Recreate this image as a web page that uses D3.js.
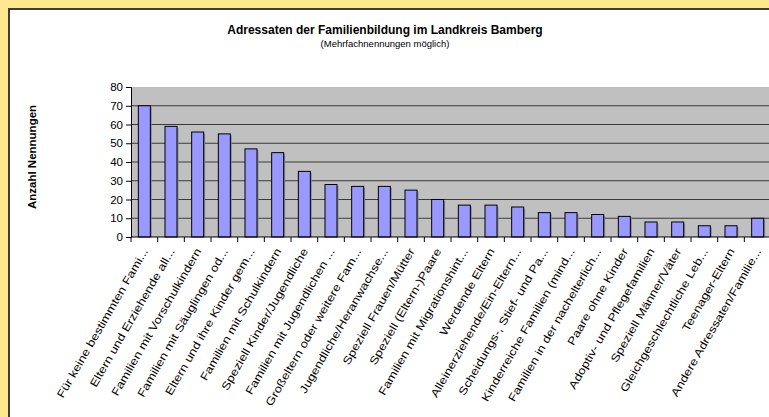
<!DOCTYPE html>
<html>
<head>
<meta charset="utf-8">
<script src="https://cdnjs.cloudflare.com/ajax/libs/d3/7.8.5/d3.min.js"></script>
<style>
  body { margin: 0; background: #FFE78F; }
  svg { display: block; font-family: Arial, "Liberation Sans", sans-serif; }
</style>
</head>
<body>
<div id="chart"></div>
<script>
let width = 769;
let height = 417;

// data
var categories = [
    "Für keine bestimmten Fami...",
    "Eltern und Erziehende all...",
    "Familien mit Vorschulkindern",
    "Familien mit Säuglingen od...",
    "Eltern und ihre Kinder gem...",
    "Familien mit Schulkindern",
    "Speziell Kinder/Jugendliche",
    "Familien mit Jugendlichen ...",
    "Großeltern oder weitere Fam...",
    "Jugendliche/Heranwachse...",
    "Speziell Frauen/Mütter",
    "Speziell (Eltern-)Paare",
    "Familien mit Migrationshint...",
    "Werdende Eltern",
    "Alleinerziehende/Ein-Eltern...",
    "Scheidungs-, Stief- und Pa...",
    "Kinderreiche Familien (mind...",
    "Familien in der nachelterlich...",
    "Paare ohne Kinder",
    "Adoptiv- und Pflegefamilien",
    "Speziell Männer/Väter",
    "Gleichgeschlechtliche Leb...",
    "Teenager-Eltern",
    "Andere Adressaten/Familie..."
];
var counts = [70, 59, 56, 55, 47, 45, 35, 28, 27, 27, 25, 20, 17, 17, 16, 13, 13, 12, 11, 8, 8, 6, 6, 10];
var yTicks = [0, 10, 20, 30, 40, 50, 60, 70, 80];

var title = "Adressaten der Familienbildung im Landkreis Bamberg";
var subtitle = "(Mehrfachnennungen möglich)";
var yTitle = "Anzahl Nennungen";

var svg = d3.select("#chart").append("svg")
    .attr("width", width)
    .attr("height", height);

// background + white chart area
svg.append("rect")
    .attr("width", width).attr("height", height)
    .attr("fill", "#FFE78F");
svg.append("rect")
    .attr("x", 9).attr("y", 9)
    .attr("width", 780).attr("height", 430)
    .attr("fill", "#fff")
    .attr("stroke", "#3c3c3c")
    .attr("stroke-width", 2);

// titles
svg.append("text")
    .attr("x", 385).attr("y", 34)
    .attr("text-anchor", "middle")
    .style("font-size", "12px")
    .style("font-weight", "bold")
    .text(title);
svg.append("text")
    .attr("x", 385).attr("y", 47)
    .attr("text-anchor", "middle")
    .style("font-size", "9.5px")
    .text(subtitle);
svg.append("text")
    .attr("transform", "translate(36,157) rotate(-90)")
    .attr("text-anchor", "middle")
    .style("font-size", "11.5px")
    .style("font-weight", "bold")
    .text(yTitle);

// scales
var x = d3.scaleBand()
    .domain(categories)
    .range([131, 771])
    .paddingInner(0.55)
    .paddingOuter(0.275);
var step = x.step();
var y = d3.scaleLinear()
    .domain([0, 80])
    .range([237, 87]);

// plot area
svg.append("rect")
    .attr("x", 131).attr("y", y(80))
    .attr("width", 640).attr("height", y(0) - y(80))
    .attr("fill", "#C0C0C0");

// grid
svg.append("g")
    .selectAll("line")
    .data(yTicks.filter(function (d) { return d > 0 && d < 80; }))
    .enter()
    .append("line")
    .attr("x1", 131).attr("x2", 771)
    .attr("y1", function (d) { return y(d); })
    .attr("y2", function (d) { return y(d); })
    .attr("stroke", "#3a3a3a")
    .attr("stroke-width", 1.2);

// bars: shadow then bar
var bars = svg.append("g")
    .selectAll("g")
    .data(counts)
    .enter()
    .append("g");
bars.append("rect")
    .attr("x", function (d, i) { return x(categories[i]) + 1.5; })
    .attr("y", function (d) { return y(d) + 1.5; })
    .attr("width", x.bandwidth())
    .attr("height", function (d) { return y(0) - y(d) - 1.5; })
    .attr("fill", "#8a8a8a");
bars.append("rect")
    .attr("x", function (d, i) { return x(categories[i]); })
    .attr("y", function (d) { return y(d); })
    .attr("width", x.bandwidth())
    .attr("height", function (d) { return y(0) - y(d); })
    .attr("fill", "#9999FF")
    .attr("stroke", "#000")
    .attr("stroke-width", 1);

// y axis
var yAxis = svg.append("g")
    .attr("transform", "translate(131,0)")
    .call(d3.axisLeft(y).tickValues(yTicks).tickSize(5).tickPadding(3));
yAxis.selectAll("text").style("font-size", "11.5px").style("font-family", "Arial, 'Liberation Sans', sans-serif").attr("fill", "#000");
yAxis.selectAll("line,path").attr("stroke", "#000");

// x axis with ticks at category boundaries
svg.append("line")
    .attr("x1", 131).attr("x2", 771)
    .attr("y1", y(0)).attr("y2", y(0))
    .attr("stroke", "#000");
svg.append("g")
    .selectAll("line")
    .data(d3.range(categories.length + 1))
    .enter()
    .append("line")
    .attr("x1", function (i) { return 131 + i * step; })
    .attr("x2", function (i) { return 131 + i * step; })
    .attr("y1", y(0)).attr("y2", y(0) + 5)
    .attr("stroke", "#000");

// rotated category labels (stretched along the text like the original)
svg.append("g")
    .selectAll("text")
    .data(categories)
    .enter()
    .append("text")
    .attr("transform", function (d) {
        return "translate(" + (x(d) + x.bandwidth() / 2 + 4) + "," + (y(0) + 14) + ") rotate(-60) scale(1.2,1)";
    })
    .attr("text-anchor", "end")
    .style("font-size", "11px")
    .text(function (d) { return d; });
</script>
</body>
</html>
